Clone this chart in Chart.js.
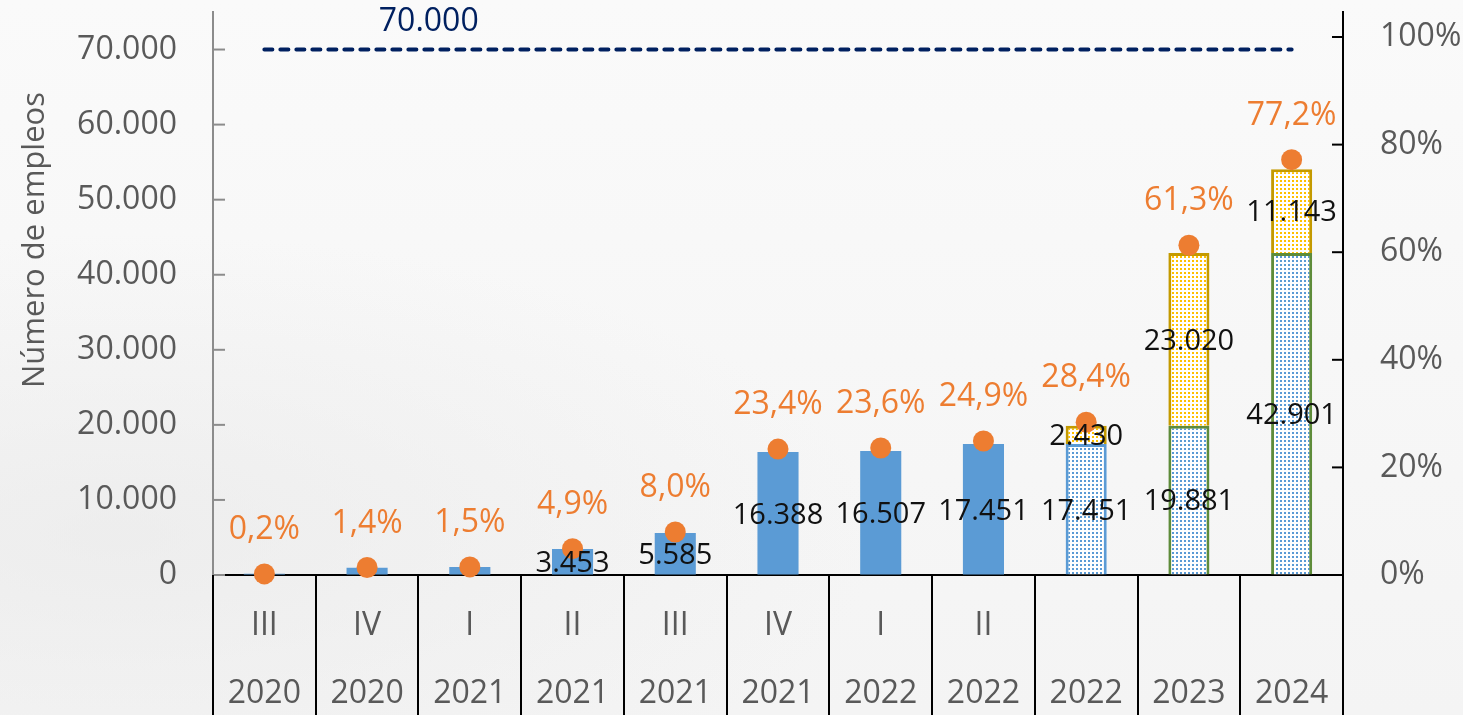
<!DOCTYPE html>
<html lang="es">
<head>
<meta charset="utf-8">
<title>Número de empleos</title>
<script src="https://cdn.jsdelivr.net/npm/chart.js@4.4.1/dist/chart.umd.min.js"></script>
<style>
  html, body { margin: 0; padding: 0; }
  body {
    width: 1463px; height: 715px; overflow: hidden;
    background:
      radial-gradient(ellipse at 8% 75%, rgba(232,232,232,0.6) 0%, rgba(232,232,232,0) 40%),
      linear-gradient(#fafafa, #f4f4f4);
  }
</style>
</head>
<body>
<canvas id="empleos" width="1463" height="715"></canvas>
<script>
const trimestres = ['III', 'IV', 'I', 'II', 'III', 'IV', 'I', 'II', '', '', ''];
const anios = ['2020', '2020', '2021', '2021', '2021', '2021', '2022', '2022', '2022', '2023', '2024'];
const empleosBase = [150, 980, 1060, 3453, 5585, 16388, 16507, 17451, 17451, 19881, 42901];
const empleosNuevos = [null, null, null, null, null, null, null, null, 2430, 23020, 11143];
const porcentajeMeta = [0.2, 1.4, 1.5, 4.9, 8.0, 23.4, 23.6, 24.9, 28.4, 61.3, 77.2];
const metaEmpleos = [70000, 70000, 70000, 70000, 70000, 70000, 70000, 70000, 70000, 70000, 70000];
const proyectado = [false, false, false, false, false, false, false, false, true, true, true];
const ticksEmpleos = [0, 10000, 20000, 30000, 40000, 50000, 60000, 70000];
const ticksPorcentaje = [0, 20, 40, 60, 80, 100];

const fuente = 'Open Sans';
const gris = '#595959';
const azul = '#5B9BD5';
const verde = '#5E8C3A';
const dorado = '#C49A00';
const naranja = '#ED7D31';

function puntos(color) {
  const c = document.createElement('canvas');
  c.width = 4; c.height = 4;
  const g = c.getContext('2d');
  g.fillStyle = '#ffffff';
  g.fillRect(0, 0, 4, 4);
  g.fillStyle = color;
  g.fillRect(0, 0, 2, 2);
  return g.createPattern(c, 'repeat');
}

const puntosAzul = puntos(azul);
const puntosAmarillo = puntos('#FFC000');

function miles(v) {
  return Math.round(v).toString().replace(/\B(?=(\d{3})+(?!\d))/g, '.');
}

// bordes de las barras proyectadas: 2022 azul, 2023-2024 verde
const bordeBase = anios.map((a, i) => !proyectado[i] ? azul : (a === '2022' ? azul : verde));

const decoraciones = {
  id: 'decoraciones',
  afterDatasetsDraw(chart) {
    const { ctx, chartArea, scales } = chart;
    ctx.save();

    // marcas hacia dentro en los ejes verticales
    ctx.lineWidth = 2;
    ctx.strokeStyle = '#8c8c8c';
    scales.y.ticks.forEach(t => {
      const py = scales.y.getPixelForValue(t.value);
      ctx.beginPath(); ctx.moveTo(chartArea.left, py); ctx.lineTo(chartArea.left + 12, py); ctx.stroke();
    });
    ctx.strokeStyle = '#000';
    scales.y1.ticks.forEach(t => {
      const py = scales.y1.getPixelForValue(t.value);
      ctx.beginPath(); ctx.moveTo(chartArea.right - 11, py); ctx.lineTo(chartArea.right, py); ctx.stroke();
    });

    // separadores de la tabla de categorías
    const n = chart.data.labels.length;
    const ancho = (chartArea.right - chartArea.left) / n;
    ctx.lineWidth = 2;
    ctx.strokeStyle = '#000';
    for (let i = 0; i <= n; i++) {
      const px = Math.round(chartArea.left + i * ancho);
      ctx.beginPath(); ctx.moveTo(px, chartArea.bottom); ctx.lineTo(px, chart.height); ctx.stroke();
    }

    ctx.textAlign = 'center';
    ctx.textBaseline = 'middle';

    // valores dentro de las barras
    ctx.fillStyle = '#111';
    ctx.font = '29px "' + fuente + '"';
    [0, 1].forEach(d => {
      const meta = chart.getDatasetMeta(d);
      meta.data.forEach((bar, i) => {
        const v = chart.data.datasets[d].data[i];
        if (v == null || v < 2000) return;
        const p = bar.getProps(['x', 'y', 'base'], true);
        ctx.fillText(miles(v), p.x, (p.y + p.base) / 2 + 2);
      });
    });

    // porcentajes sobre los puntos
    ctx.fillStyle = naranja;
    ctx.font = '32px "' + fuente + '"';
    chart.getDatasetMeta(2).data.forEach((pt, i) => {
      const txt = porcentajeMeta[i].toFixed(1).replace('.', ',') + '%';
      ctx.fillText(txt, pt.x, pt.y - 44);
    });

    // etiqueta de la meta
    const lm = chart.getDatasetMeta(3).data;
    ctx.fillStyle = '#002060';
    ctx.fillText(miles(metaEmpleos[1]), lm[1].x + 0.6 * (lm[2].x - lm[1].x), lm[1].y - 28);

    // título del eje izquierdo
    ctx.fillStyle = gris;
    ctx.font = '31px "' + fuente + '"';
    ctx.translate(35, chartArea.top + (chartArea.bottom - chartArea.top) * 0.405);
    ctx.rotate(-Math.PI / 2);
    ctx.fillText('Número de empleos', 0, 0);

    ctx.restore();
  }
};

const ctx = document.getElementById('empleos').getContext('2d');
const chart = new Chart(ctx, {
  data: {
    labels: trimestres.map((t, i) => [t, anios[i]]),
    datasets: [
      {
        type: 'bar',
        label: 'Empleos',
        data: empleosBase,
        stack: 'empleos',
        backgroundColor: proyectado.map(p => p ? puntosAzul : azul),
        borderColor: bordeBase,
        borderWidth: proyectado.map(p => p ? 3 : 0),
        barPercentage: 0.4,
        categoryPercentage: 1,
        order: 2
      },
      {
        type: 'bar',
        label: 'Nuevos empleos',
        data: empleosNuevos,
        stack: 'empleos',
        backgroundColor: puntosAmarillo,
        borderColor: dorado,
        borderWidth: 3,
        barPercentage: 0.4,
        categoryPercentage: 1,
        order: 2
      },
      {
        type: 'line',
        label: '% de la meta',
        data: porcentajeMeta,
        yAxisID: 'y1',
        showLine: false,
        pointRadius: 10.5,
        pointHoverRadius: 10.5,
        pointBackgroundColor: naranja,
        pointBorderWidth: 0,
        clip: false,
        order: 0
      },
      {
        type: 'line',
        label: 'Meta',
        data: metaEmpleos,
        stack: 'meta',
        borderColor: '#002060',
        borderWidth: 4,
        borderDash: [8, 8],
        borderCapStyle: 'round',
        pointRadius: 0,
        pointHoverRadius: 0,
        fill: false,
        order: 1
      }
    ]
  },
  options: {
    responsive: false,
    animation: false,
    layout: { padding: { top: 12, left: 0, right: 0, bottom: 0 }, autoPadding: false },
    plugins: {
      legend: { display: false },
      tooltip: { enabled: false }
    },
    scales: {
      x: {
        stacked: true,
        offset: true,
        grid: { display: false },
        border: { display: true, color: '#000', width: 2 },
        ticks: {
          color: gris,
          padding: 9,
          maxRotation: 0,
          autoSkip: false,
          font: { family: fuente, size: 32, lineHeight: '68px' }
        },
        afterFit(s) { s.height = 140; }
      },
      y: {
        stacked: true,
        position: 'left',
        min: 0,
        max: 75000,
        grid: { display: true, drawOnChartArea: false, drawTicks: true, tickLength: 36, tickColor: 'rgba(0,0,0,0)' },
        border: { display: true, color: '#8c8c8c', width: 2 },
        ticks: {
          padding: 0,
          color: gris,
          font: { family: fuente, size: 32, lineHeight: 0.7 },
          callback: v => miles(v)
        },
        afterBuildTicks(s) { s.ticks = ticksEmpleos.map(v => ({ value: v })); },
        afterFit(s) { s.width = 213; }
      },
      y1: {
        position: 'right',
        min: 0,
        max: 104.65,
        grid: { display: true, drawOnChartArea: false, drawTicks: true, tickLength: 37, tickColor: 'rgba(0,0,0,0)' },
        border: { display: true, color: '#000', width: 2 },
        ticks: {
          padding: 0,
          color: gris,
          font: { family: fuente, size: 32, lineHeight: 0.7 },
          callback: v => v + '%'
        },
        afterBuildTicks(s) { s.ticks = ticksPorcentaje.map(v => ({ value: v })); },
        afterFit(s) { s.width = 120; }
      }
    }
  },
  plugins: [decoraciones]
});
</script>
</body>
</html>
